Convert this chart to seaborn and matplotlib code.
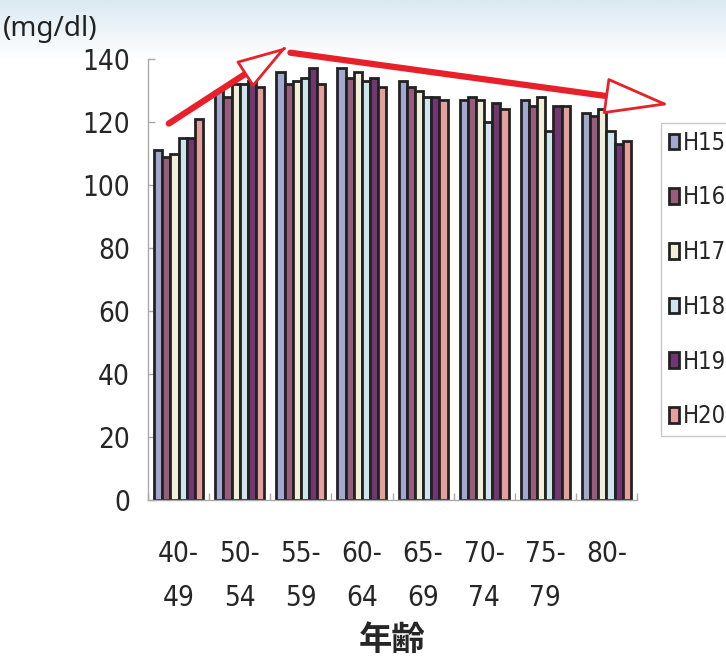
import numpy as np
import pandas as pd
import matplotlib
matplotlib.use("Agg")
import matplotlib.pyplot as plt
import seaborn as sns

ages = ["40-\n49", "50-\n54", "55-\n59", "60-\n64", "65-\n69", "70-\n74", "75-\n79", "80-"]
years = ["H15", "H16", "H17", "H18", "H19", "H20"]
H15 = [111, 130, 136, 137, 133, 127, 127, 123]
H16 = [109, 128, 132, 134, 131, 128, 125, 122]
H17 = [110, 132, 133, 136, 130, 127, 128, 124]
H18 = [115, 132, 134, 133, 128, 120, 117, 117]
H19 = [115, 133, 137, 134, 128, 126, 125, 113]
H20 = [121, 131, 132, 131, 127, 124, 125, 114]
colors = ["#9ba3d6", "#a2537c", "#f5f3d4", "#c9e7f3", "#7c2d7c", "#f0978f"]
yticks = [0, 20, 40, 60, 80, 100, 120, 140]

series = [H15, H16, H17, H18, H19, H20]
df = pd.DataFrame({
    "age": np.repeat([ages], len(years), axis=0).ravel(),
    "year": np.repeat(years, len(ages)),
    "value": np.concatenate(series),
})

sns.set_theme(style="white")
plt.rcParams["font.family"] = ["DejaVu Sans"]
plt.rcParams["font.stretch"] = "condensed"

fig = plt.figure(figsize=(7.26, 6.6), dpi=100)

# faint top background band
bg = fig.add_axes([0, 1 - 60 / 660, 1, 60 / 660], zorder=-5)
grad = np.linspace(0, 1, 50).reshape(-1, 1)
bg.imshow(grad, aspect="auto", cmap=matplotlib.colors.LinearSegmentedColormap.from_list(
    "g", ["#dbe9f2", "#ffffff"]), extent=[0, 1, 0, 1])
bg.axis("off")

ax = fig.add_axes([148 / 726, 1 - 500 / 660, 489 / 726, 441 / 660])
ax.patch.set_alpha(0)
sns.barplot(data=df, x="age", y="value", hue="year", palette=colors,
            edgecolor="#222222", linewidth=2.0, width=0.8, ax=ax, legend=True)

ax.set_ylim(0, 140)
ax.set_xlim(-0.5, len(ages) - 0.5)
ax.set_yticks(yticks)
ax.set_yticklabels([str(v) for v in yticks])
ax.set_xlabel("")
ax.set_ylabel("")
for s in ["top", "right"]:
    ax.spines[s].set_visible(False)
for s in ["left", "bottom"]:
    ax.spines[s].set_color("#aaaaaa")
    ax.spines[s].set_linewidth(1.0)

ax.tick_params(axis="y", direction="in", length=5, color="#aaaaaa", width=1,
               labelsize=20, pad=13, left=True)
ax.tick_params(axis="x", length=0, labelsize=20, pad=29)
ax.set_xticks(np.arange(-0.5, len(ages), 1.0), minor=True)
ax.tick_params(axis="x", which="minor", direction="in", length=5, color="#aaaaaa",
               width=1, bottom=True)
for lab in ax.get_xticklabels():
    lab.set_linespacing(1.7)

ax.set_xlabel("年齢", fontsize=24, fontweight="bold",
              family=["Noto Sans CJK JP", "DejaVu Sans"], labelpad=9)

fig.text(3 / 726, 1 - 29 / 660, "(mg/dl)", fontsize=20, va="center", ha="left",
         family=["Noto Sans", "DejaVu Sans"], color="#222222")

# legend
handles, labels = ax.get_legend_handles_labels()
ax.legend(handles, labels, loc="upper left",
          bbox_to_anchor=(661 / 726, 1 - 123 / 660), bbox_transform=fig.transFigure,
          frameon=True, fancybox=False, fontsize=17, handlelength=0.45,
          handleheight=0.65, handletextpad=0.15, labelspacing=1.3,
          borderpad=0.33, borderaxespad=0, edgecolor="#bbbbbb")
ax.get_legend().get_frame().set_linewidth(1.0)

# red trend arrows (decoration, anchored in data coordinates)
red = "#e8202a"
def trend_arrow(x0, y0, x1, y1, hl, hw):
    dx, dy = x1 - x0, y1 - y0
    ax.annotate("", xy=(x1, y1), xytext=(x0, y0), xycoords="data",
                annotation_clip=False,
                arrowprops=dict(arrowstyle="-", color=red, lw=4.5,
                                shrinkA=0, shrinkB=hl * 0.6))
    ax.annotate("", xy=(x1, y1), xytext=(x1 - dx * 0.02, y1 - dy * 0.02),
                xycoords="data", annotation_clip=False,
                arrowprops=dict(arrowstyle=f"-|>,head_length={hl},head_width={hw}",
                                fc="white", ec=red, lw=2, mutation_scale=1,
                                shrinkA=0, shrinkB=0))

trend_arrow(-0.16, 119.5, 1.77, 143.8, 32, 10)
trend_arrow(1.83, 142.0, 8.03, 125.5, 42, 12)

fig.savefig("out.png", dpi=100)
